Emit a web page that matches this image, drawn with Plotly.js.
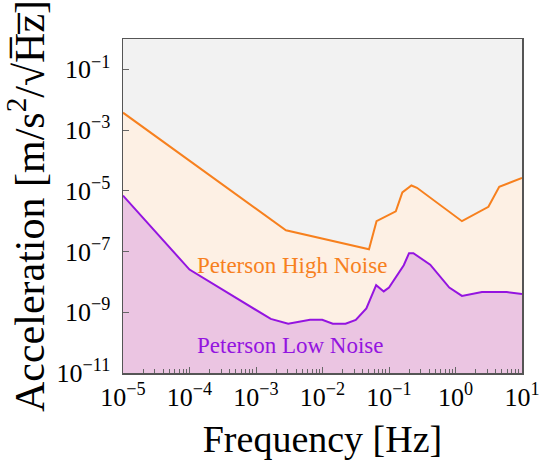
<!DOCTYPE html>
<html>
<head>
<meta charset="utf-8">
<script src="https://cdn.plot.ly/plotly-3.0.1.min.js"></script>
<style>html,body{margin:0;padding:0;background:#fff;}#chart{width:540px;height:461px;}</style>
</head>
<body>
<div id="chart"></div>
<script>
// Peterson New High Noise Model (acceleration ASD, m/s^2/sqrt(Hz))
const nhnmFreq = [1e-5, 2.8185e-3, 0.05, 0.064935, 0.12658, 0.15873, 0.21739, 0.26316, 1.25, 3.125, 4.5455, 10];
const nhnmAsd  = [3.754e-3, 5.01e-7, 1.189e-7, 1.0e-6, 2.113e-6, 8.91e-6, 1.496e-5, 1.259e-5, 1.0e-6, 2.985e-6, 1.349e-5, 2.661e-5];
// Peterson New Low Noise Model
const nlnmFreq = [1e-5, 1e-4, 1.6667e-3, 3.0488e-3, 6.4935e-3, 9.901e-3, 1.4286e-2, 2.2222e-2, 3.1646e-2, 4.5662e-2, 6.4103e-2, 8.3333e-2, 0.1, 0.16667, 0.2, 0.23256, 0.41667, 0.80645, 1.25, 2.5, 5.8824, 10];
const nlnmAsd  = [6.98e-6, 2.547e-8, 6.04e-10, 4.22e-10, 5.63e-10, 5.62e-10, 4.22e-10, 4.22e-10, 5.62e-10, 1.334e-9, 7.82e-9, 4.87e-9, 6.49e-9, 3.55e-8, 8.81e-8, 8.81e-8, 3.69e-8, 6.53e-9, 3.47e-9, 4.62e-9, 4.62e-9, 3.98e-9];

const xTickVals = [1e-5, 1e-4, 1e-3, 1e-2, 1e-1, 1, 10];
const xTickText = ['10<sup>−5</sup>', '10<sup>−4</sup>', '10<sup>−3</sup>', '10<sup>−2</sup>', '10<sup>−1</sup>', '10<sup>0</sup>', '10<sup>1</sup>'];
const yTickVals = [1e-11, 1e-9, 1e-7, 1e-5, 1e-3, 1e-1];
const yTickText = ['10<sup>−11</sup>', '10<sup>−9</sup>', '10<sup>−7</sup>', '10<sup>−5</sup>', '10<sup>−3</sup>', '10<sup>−1</sup>'];
const minorMult = [2, 3, 4, 5, 6, 7, 8, 9];

const floorVal = 1e-12;
const minorVals = [];
xTickVals.slice(0, -1).forEach(d => minorMult.forEach(m => minorVals.push(d * m)));

const orange = '#f7801e';
const purple = '#9414e0';
const font = 'Liberation Serif';

const traces = [
  {x: [nhnmFreq[0], nhnmFreq[nhnmFreq.length-1]], y: [floorVal, floorVal], mode: 'lines', line: {width: 0}, hoverinfo: 'skip', showlegend: false},
  {x: nhnmFreq, y: nhnmAsd, mode: 'lines', line: {color: orange, width: 2}, fill: 'tonexty', fillcolor: '#fdf0e4', name: 'Peterson High Noise', showlegend: false},
  {x: [nlnmFreq[0], nlnmFreq[nlnmFreq.length-1]], y: [floorVal, floorVal], mode: 'lines', line: {width: 0}, hoverinfo: 'skip', showlegend: false},
  {x: nlnmFreq, y: nlnmAsd, mode: 'lines', line: {color: purple, width: 2}, fill: 'tonexty', fillcolor: '#ebc5e2', name: 'Peterson Low Noise', showlegend: false}
];

const layout = {
  width: 540, height: 461,
  margin: {l: 123, r: 18, t: 39, b: 88},
  paper_bgcolor: '#ffffff',
  plot_bgcolor: '#f2f2f2',
  showlegend: false,
  font: {family: font, color: '#000'},
  xaxis: {
    type: 'log', range: [-5, 1],
    tickmode: 'array', tickvals: xTickVals, ticktext: xTickText,
    ticks: 'inside', ticklen: 6, tickcolor: '#666', tickwidth: 1,
    minor: {tickmode: 'array', tickvals: minorVals, ticks: 'inside', ticklen: 4, tickcolor: '#666', tickwidth: 1, showgrid: false},
    showgrid: false, zeroline: false,
    showline: true, linecolor: '#555', linewidth: 1.5, mirror: true,
    tickfont: {size: 26, family: font, color: '#000'},
    title: {text: 'Frequency [Hz]', font: {size: 38, family: font, color: '#000'}, standoff: 14}
  },
  yaxis: {
    type: 'log', range: [-11, 0],
    tickmode: 'array', tickvals: yTickVals, ticktext: yTickText,
    ticks: 'inside', ticklen: 6, tickcolor: '#666', tickwidth: 1,
    ticklabelstandoff: 6,
    showgrid: false, zeroline: false,
    showline: true, linecolor: '#555', linewidth: 1.5, mirror: true,
    tickfont: {size: 26, family: font, color: '#000'},
    title: {text: 'Acceleration [m/s<sup>2</sup>/√H\u0305z\u0305]', font: {size: 42, family: font, color: '#000'}, standoff: 0}
  },
  annotations: [
    {xref: 'paper', yref: 'paper', x: 0.423, y: 0.323, xanchor: 'center', yanchor: 'middle', text: 'Peterson High Noise', showarrow: false, font: {size: 23, family: font, color: orange}},
    {xref: 'paper', yref: 'paper', x: 0.419, y: 0.081, xanchor: 'center', yanchor: 'middle', text: 'Peterson Low Noise', showarrow: false, font: {size: 23, family: font, color: purple}}
  ]
};

Plotly.newPlot('chart', traces, layout, {displayModeBar: false, staticPlot: true});
</script>
</body>
</html>
